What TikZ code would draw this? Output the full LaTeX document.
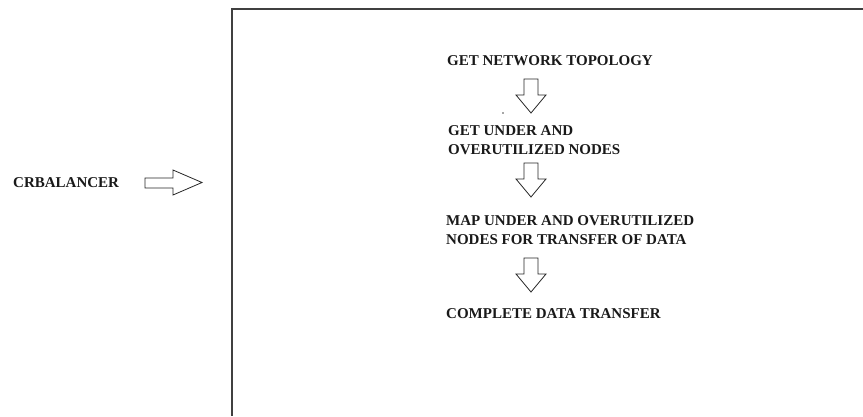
\documentclass[tikz,border=0pt]{standalone}
\usepackage{fontspec}
\setmainfont{Liberation Serif}
\begin{document}
\begin{tikzpicture}[x=1pt,y=-1pt,
  steptext/.style={anchor=north west,inner sep=0pt,align=left,text=black!90,
    font=\fontsize{15}{19.5}\selectfont\bfseries},
  blockarrow/.style={draw=black!85,line width=0.8pt,fill=white,line join=miter},
  frameline/.style={draw=black!75,line width=1.8pt},
  pics/downarrow/.style={code={
    \draw[blockarrow] (-7,0) -- (7,0) -- (7,16) -- (15,16) -- (0,34) -- (-15,16) -- (-7,16) -- cycle;
  }}]
  \useasboundingbox (0,0) rectangle (863,416);

  % open frame around the procedure
  \draw[frameline] (863,9) -- (232,9) -- (232,416);

  % caller and hand-off arrow
  \node[steptext,anchor=west] (crb) at (13,183) {CRBALANCER};
  \draw[blockarrow] (145,178) -- (173,178) -- (173,170) -- (202,182.5)
     -- (173,195) -- (173,188) -- (145,188) -- cycle;

  % steps
  \node[steptext] (s1) at (447,55) {GET NETWORK TOPOLOGY};
  \node[steptext] (s2) at (448,125) {GET UNDER AND\\OVERUTILIZED NODES};
  \node[steptext] (s3) at (446,215) {MAP UNDER AND OVERUTILIZED\\NODES FOR TRANSFER OF DATA};
  \node[steptext] (s4) at (446,308) {COMPLETE DATA TRANSFER};

  % arrows between steps
  \pic at (531,79) {downarrow};
  \pic at (531,163) {downarrow};
  \pic at (531,258) {downarrow};

  % stray dot
  \fill[black!70] (503,113) circle (0.8);
\end{tikzpicture}
\end{document}
